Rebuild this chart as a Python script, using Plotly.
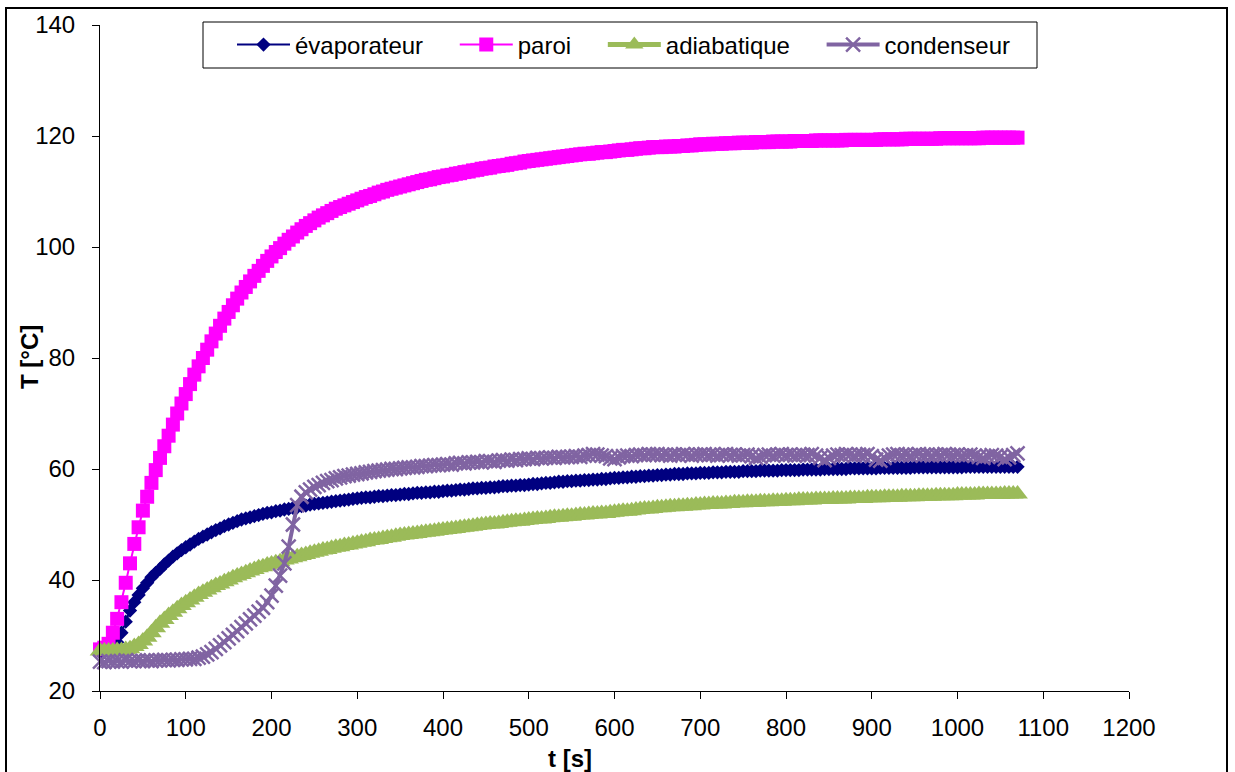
import plotly.graph_objects as go

# sampling times [s]
t = list(range(0, 1075, 5))

evaporateur = [
    27.0, 27.0, 27.2, 27.8, 28.8, 30.5, 32.5, 34.5, 36.0, 37.3,
    38.5, 39.5, 40.5, 41.3, 42.0, 42.8, 43.5, 44.2, 44.8, 45.4,
    45.9, 46.4, 46.9, 47.4, 47.8, 48.2, 48.6, 49.0, 49.3, 49.7,
    50.0, 50.3, 50.6, 50.9, 51.1, 51.3, 51.5, 51.7, 51.9, 52.1,
    52.2, 52.4, 52.5, 52.7, 52.8, 53.0, 53.1, 53.3, 53.4, 53.6,
    53.7, 53.8, 53.9, 54.0, 54.1, 54.2, 54.3, 54.4, 54.5, 54.6,
    54.7, 54.8, 54.9, 54.9, 55.0, 55.1, 55.1, 55.2, 55.3, 55.3,
    55.4, 55.5, 55.5, 55.6, 55.7, 55.7, 55.8, 55.8, 55.9, 55.9,
    56.0, 56.1, 56.1, 56.2, 56.3, 56.3, 56.4, 56.5, 56.5, 56.6,
    56.6, 56.7, 56.7, 56.8, 56.9, 56.9, 57.0, 57.0, 57.1, 57.1,
    57.2, 57.3, 57.3, 57.4, 57.5, 57.5, 57.6, 57.7, 57.7, 57.8,
    57.8, 57.9, 57.9, 58.0, 58.0, 58.1, 58.1, 58.2, 58.2, 58.3,
    58.4, 58.4, 58.5, 58.5, 58.6, 58.6, 58.7, 58.7, 58.8, 58.8,
    58.9, 58.9, 59.0, 59.0, 59.1, 59.1, 59.1, 59.2, 59.2, 59.2,
    59.3, 59.3, 59.3, 59.4, 59.4, 59.4, 59.5, 59.5, 59.5, 59.5,
    59.6, 59.6, 59.6, 59.6, 59.7, 59.7, 59.7, 59.7, 59.7, 59.8,
    59.8, 59.8, 59.8, 59.8, 59.9, 59.9, 59.9, 59.9, 59.9, 60.0,
    60.0, 60.0, 60.0, 60.0, 60.0, 60.1, 60.1, 60.1, 60.1, 60.1,
    60.1, 60.1, 60.2, 60.2, 60.2, 60.2, 60.2, 60.2, 60.2, 60.2,
    60.3, 60.3, 60.3, 60.3, 60.3, 60.3, 60.3, 60.3, 60.3, 60.3,
    60.3, 60.3, 60.4, 60.4, 60.4, 60.4, 60.4, 60.4, 60.4, 60.4,
    60.4, 60.4, 60.4, 60.4, 60.4,
]

paroi = [
    27.5, 27.8, 28.5, 30.5, 33.0, 36.0, 39.5, 43.0, 46.5, 49.5,
    52.5, 55.0, 57.5, 59.8, 62.0, 64.1, 66.0, 68.0, 70.0, 71.8,
    73.5, 75.3, 77.0, 78.5, 80.0, 81.5, 83.0, 84.4, 85.8, 87.1,
    88.3, 89.5, 90.7, 91.8, 92.8, 93.8, 94.8, 95.7, 96.6, 97.5,
    98.3, 99.1, 99.8, 100.6, 101.3, 101.9, 102.6, 103.2, 103.8, 104.3,
    104.8, 105.3, 105.7, 106.1, 106.5, 106.9, 107.2, 107.5, 107.8, 108.1,
    108.4, 108.7, 109.0, 109.2, 109.5, 109.8, 110.0, 110.3, 110.5, 110.7,
    110.9, 111.1, 111.3, 111.5, 111.7, 111.9, 112.1, 112.2, 112.4, 112.6,
    112.7, 112.9, 113.0, 113.2, 113.3, 113.5, 113.6, 113.8, 113.9, 114.1,
    114.2, 114.3, 114.5, 114.6, 114.7, 114.8, 115.0, 115.1, 115.2, 115.4,
    115.5, 115.6, 115.7, 115.8, 115.9, 116.0, 116.1, 116.2, 116.3, 116.4,
    116.5, 116.6, 116.7, 116.8, 116.8, 116.9, 117.0, 117.1, 117.1, 117.2,
    117.3, 117.4, 117.5, 117.5, 117.6, 117.7, 117.8, 117.8, 117.9, 118.0,
    118.0, 118.0, 118.1, 118.1, 118.1, 118.2, 118.2, 118.3, 118.3, 118.4,
    118.5, 118.5, 118.5, 118.6, 118.6, 118.6, 118.7, 118.7, 118.7, 118.8,
    118.8, 118.8, 118.8, 118.9, 118.9, 118.9, 118.9, 119.0, 119.0, 119.0,
    119.0, 119.0, 119.1, 119.1, 119.1, 119.1, 119.1, 119.2, 119.2, 119.2,
    119.2, 119.2, 119.2, 119.2, 119.3, 119.3, 119.3, 119.3, 119.3, 119.3,
    119.3, 119.3, 119.4, 119.4, 119.4, 119.4, 119.4, 119.4, 119.5, 119.5,
    119.5, 119.5, 119.5, 119.5, 119.5, 119.5, 119.6, 119.6, 119.6, 119.6,
    119.6, 119.6, 119.6, 119.6, 119.6, 119.6, 119.7, 119.7, 119.7, 119.7,
    119.7, 119.7, 119.7, 119.7, 119.7,
]

adiabatique = [
    27.2, 27.2, 27.2, 27.2, 27.3, 27.3, 27.5, 27.6, 28.0, 28.4,
    29.0, 29.7, 30.5, 31.4, 32.2, 32.9, 33.6, 34.2, 34.8, 35.4,
    35.9, 36.4, 36.9, 37.4, 37.8, 38.2, 38.6, 39.0, 39.3, 39.7,
    40.0, 40.4, 40.7, 41.0, 41.3, 41.6, 41.9, 42.2, 42.4, 42.7,
    42.9, 43.1, 43.3, 43.6, 43.8, 44.0, 44.2, 44.4, 44.6, 44.8,
    45.0, 45.2, 45.4, 45.5, 45.7, 45.9, 46.0, 46.2, 46.3, 46.5,
    46.6, 46.8, 46.9, 47.1, 47.2, 47.3, 47.5, 47.6, 47.7, 47.9,
    48.0, 48.1, 48.2, 48.3, 48.4, 48.5, 48.6, 48.7, 48.8, 48.9,
    49.0, 49.1, 49.2, 49.3, 49.4, 49.5, 49.6, 49.7, 49.8, 49.9,
    50.0, 50.1, 50.1, 50.2, 50.3, 50.4, 50.5, 50.6, 50.6, 50.7,
    50.8, 50.9, 51.0, 51.0, 51.1, 51.2, 51.3, 51.3, 51.4, 51.5,
    51.5, 51.6, 51.7, 51.7, 51.8, 51.9, 51.9, 52.0, 52.0, 52.1,
    52.2, 52.3, 52.4, 52.4, 52.5, 52.6, 52.7, 52.8, 52.8, 52.9,
    53.0, 53.0, 53.1, 53.2, 53.2, 53.3, 53.3, 53.4, 53.4, 53.5,
    53.5, 53.6, 53.6, 53.7, 53.7, 53.7, 53.8, 53.8, 53.9, 53.9,
    53.9, 54.0, 54.0, 54.0, 54.1, 54.1, 54.1, 54.2, 54.2, 54.2,
    54.3, 54.3, 54.3, 54.4, 54.4, 54.4, 54.4, 54.5, 54.5, 54.5,
    54.5, 54.6, 54.6, 54.6, 54.6, 54.7, 54.7, 54.7, 54.7, 54.8,
    54.8, 54.8, 54.8, 54.9, 54.9, 54.9, 54.9, 55.0, 55.0, 55.0,
    55.0, 55.1, 55.1, 55.1, 55.1, 55.2, 55.2, 55.2, 55.2, 55.2,
    55.3, 55.3, 55.3, 55.3, 55.3, 55.4, 55.4, 55.4, 55.4, 55.4,
    55.4, 55.5, 55.5, 55.5, 55.5,
]

condenseur = [
    25.3, 25.2, 25.4, 25.3, 25.4, 25.3, 25.5, 25.4, 25.4, 25.5,
    25.4, 25.5, 25.4, 25.5, 25.5, 25.6, 25.5, 25.6, 25.6, 25.7,
    25.7, 25.8, 25.8, 26.0, 26.2, 26.6, 27.0, 27.6, 28.2, 28.8,
    29.5, 30.1, 30.8, 31.5, 32.2, 32.9, 33.6, 34.3, 35.0, 36.0,
    37.2, 39.0, 40.8, 43.0, 46.0, 50.0, 53.5, 55.0, 55.8, 56.3,
    56.8, 57.1, 57.5, 57.8, 58.0, 58.3, 58.5, 58.7, 58.8, 59.0,
    59.1, 59.2, 59.4, 59.5, 59.6, 59.7, 59.8, 59.9, 60.0, 60.0,
    60.1, 60.2, 60.3, 60.3, 60.4, 60.5, 60.5, 60.6, 60.7, 60.7,
    60.8, 60.9, 60.8, 61.0, 61.1, 61.0, 61.2, 61.2, 61.3, 61.2,
    61.4, 61.4, 61.3, 61.5, 61.6, 61.5, 61.7, 61.6, 61.8, 61.8,
    61.9, 61.8, 62.0, 61.9, 62.0, 62.1, 62.0, 62.2, 62.1, 62.2,
    62.2, 62.3, 62.2, 62.4, 62.5, 62.7, 62.6, 62.4, 62.3, 61.9,
    61.8, 62.1, 62.3, 62.4, 62.3, 62.5, 62.6, 62.5, 62.7, 62.6,
    62.7, 62.5, 62.6, 62.4, 62.6, 62.5, 62.7, 62.6, 62.4, 62.6,
    62.6, 62.7, 62.5, 62.6, 62.4, 62.6, 62.7, 62.5, 62.6, 62.4,
    62.5, 62.6, 62.3, 62.0, 62.2, 62.5, 62.6, 62.4, 62.6, 62.7,
    62.5, 62.6, 62.4, 62.5, 62.6, 62.5, 62.7, 62.4, 62.0, 61.6,
    62.0, 62.4, 62.6, 62.5, 62.7, 62.6, 62.4, 62.6, 62.5, 62.7,
    62.3, 61.7, 61.5, 62.0, 62.4, 62.6, 62.7, 62.5, 62.6, 62.4,
    62.6, 62.7, 62.5, 62.6, 62.4, 62.6, 62.5, 62.7, 62.6, 62.5,
    62.6, 62.4, 62.5, 62.6, 62.4, 62.2, 62.0, 62.3, 62.5, 62.4,
    62.2, 61.8, 62.1, 62.5, 62.8,
]

x_ticks = [0, 100, 200, 300, 400, 500, 600, 700, 800, 900, 1000, 1100, 1200]
y_ticks = [20, 40, 60, 80, 100, 120, 140]

W, H = 1235, 772
L, R, T, B = 100, 106, 25, 81
pw, ph = W - L - R, H - T - B


def px_x(px):
    return (px - L) / pw


def px_y(py):
    return (H - B - py) / ph


FONT = "Liberation Sans, Arial, sans-serif"
NB = "\u00a0"

fig = go.Figure()
fig.add_trace(go.Scatter(
    x=t, y=evaporateur, name="évaporateur" + NB * 4, mode="lines+markers",
    line=dict(color="#000080", width=2),
    marker=dict(symbol="diamond", size=11, color="#000080"),
    cliponaxis=False))
fig.add_trace(go.Scatter(
    x=t, y=paroi, name="paroi" + NB * 4, mode="lines+markers",
    line=dict(color="#FF00FF", width=2),
    marker=dict(symbol="square", size=14, color="#FF00FF"),
    cliponaxis=False))
fig.add_trace(go.Scatter(
    x=t, y=adiabatique, name="adiabatique" + NB * 4, mode="lines+markers",
    line=dict(color="#9BBB59", width=5),
    marker=dict(symbol="triangle-up", size=18, color="#9BBB59"),
    cliponaxis=False))
fig.add_trace(go.Scatter(
    x=t, y=condenseur, name="condenseur", mode="lines+markers",
    line=dict(color="#8064A2", width=4),
    marker=dict(symbol="x-thin", size=14, color="#8064A2",
                line=dict(color="#8064A2", width=2.5)),
    cliponaxis=False))

shapes = [
    # outer chart frame
    dict(type="rect", xref="paper", yref="paper",
         x0=px_x(6), x1=px_x(1227), y0=px_y(790), y1=px_y(8),
         line=dict(color="black", width=2), fillcolor="rgba(0,0,0,0)",
         layer="below"),
    # legend frame
    dict(type="rect", xref="paper", yref="paper",
         x0=px_x(203), x1=px_x(1037), y0=px_y(68), y1=px_y(22),
         line=dict(color="black", width=1), fillcolor="white",
         layer="below"),
]

annotations = [
    dict(text="<b>t [s]</b>", xref="paper", yref="paper",
         x=px_x(570), y=px_y(758), xanchor="center", yanchor="middle",
         showarrow=False, font=dict(size=24, family=FONT, color="black")),
    dict(text="<b>T [°C]</b>", xref="paper", yref="paper",
         x=px_x(29), y=px_y(357), xanchor="center", yanchor="middle",
         textangle=-90, showarrow=False,
         font=dict(size=24, family=FONT, color="black")),
]

fig.update_layout(
    width=W, height=H,
    margin=dict(l=L, r=R, t=T, b=B, pad=0),
    paper_bgcolor="white", plot_bgcolor="white",
    font=dict(family=FONT, size=24, color="black"),
    showlegend=True,
    legend=dict(orientation="h", x=px_x(232), y=px_y(45),
                xanchor="left", yanchor="middle",
                bgcolor="rgba(0,0,0,0)", borderwidth=0,
                itemwidth=53, font=dict(size=24, family=FONT),
                tracegroupgap=0),
    shapes=shapes,
    annotations=annotations,
    xaxis=dict(range=[0, 1200], tickvals=x_ticks, ticks="outside",
               ticklen=7, tickcolor="black", tickwidth=1,
               showline=True, linecolor="black", linewidth=1,
               showgrid=False, zeroline=False, ticklabelstandoff=8,
               tickfont=dict(size=24, family=FONT)),
    yaxis=dict(range=[20, 140], tickvals=y_ticks, ticks="outside",
               ticklen=7, tickcolor="black", tickwidth=1,
               showline=True, linecolor="black", linewidth=1,
               showgrid=False, zeroline=False, ticklabelstandoff=12,
               tickfont=dict(size=24, family=FONT)),
)

fig.write_html("out.html")
